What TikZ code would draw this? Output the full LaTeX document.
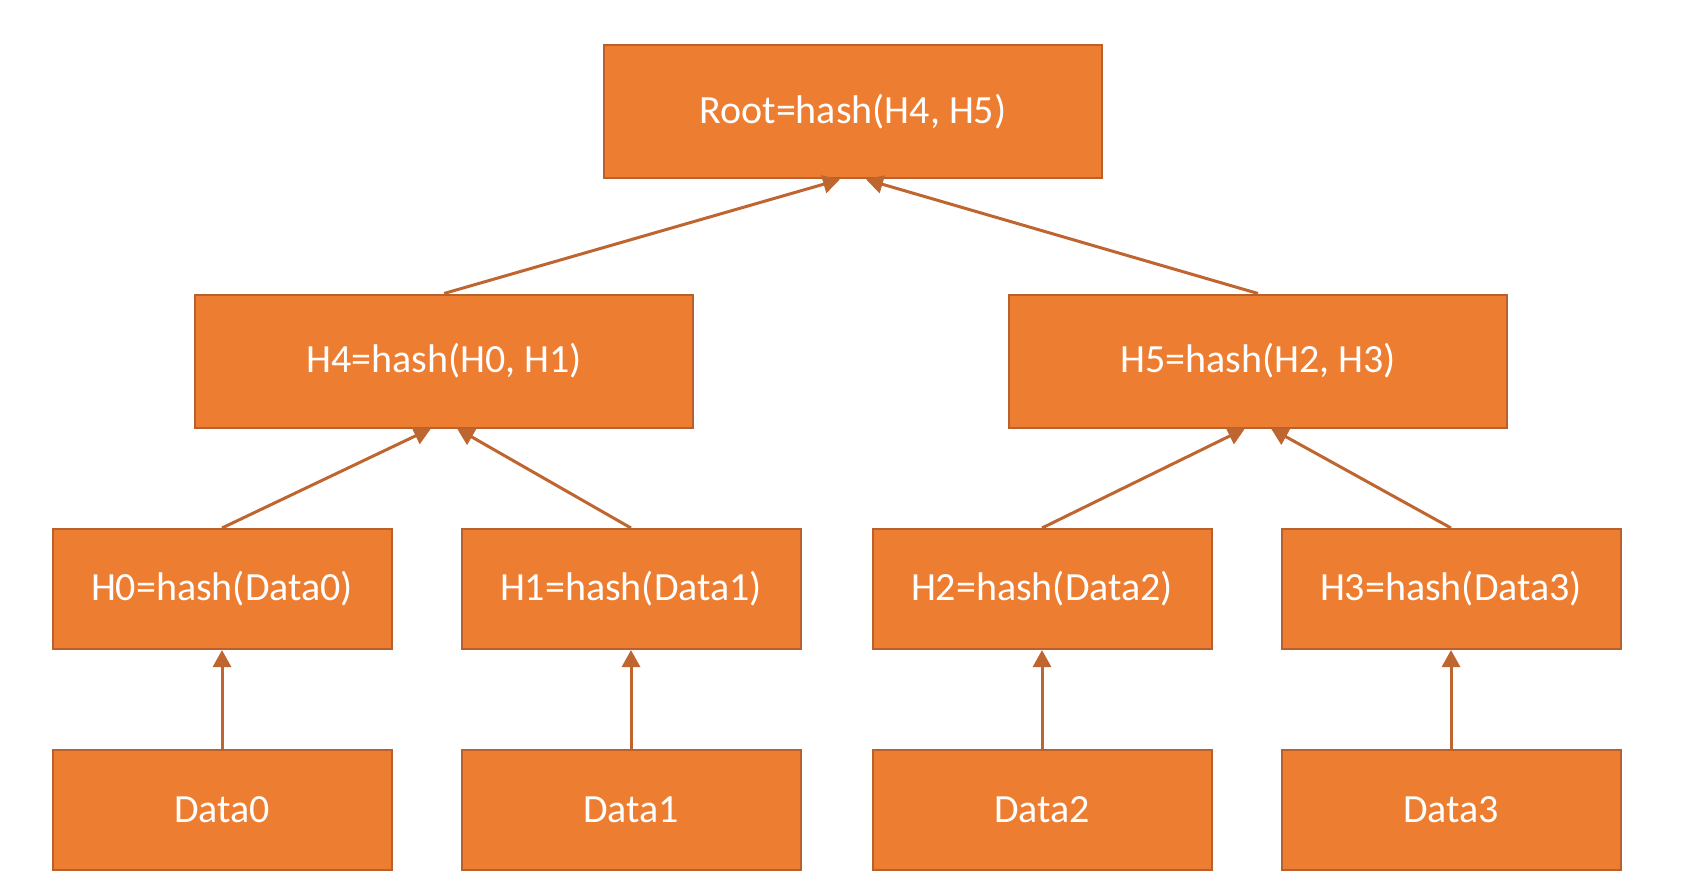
\documentclass[tikz,border=0pt]{standalone}
\usepackage{fontspec}
\setmainfont{Carlito}
\usetikzlibrary{arrows.meta}
\definecolor{naranja}{HTML}{ED7D31}
\definecolor{naranjaosc}{HTML}{B8612C}
\definecolor{cafe}{HTML}{BF6530}
\begin{document}
\begin{tikzpicture}[x=1pt,y=-1pt,
	caja/.style={draw=naranjaosc,line width=2pt,fill=naranja,text=white,inner sep=0pt,
		font=\fontsize{40}{48}\selectfont,minimum width=498pt,minimum height=133pt},
	hoja/.style={caja,minimum width=339pt,minimum height=120pt},
	flecha/.style={draw=cafe,line width=3pt,-{Triangle[length=17pt,width=18pt]}}]
			\useasboundingbox (0,0) rectangle (1698,888);

			% Raiz y nivel 1
			\node[caja] (raiz) at (853,112) {Root=hash(H4, H5)};
			\node[caja] (h4) at (444,361) {H4=hash(H0, H1)};
			\node[caja] (h5) at (1258,361) {H5=hash(H2, H3)};

			% Hashes de datos
			\node[hoja] (h0) at (222,589) {H0=hash(Data0)};
			\node[hoja] (h1) at (631,589) {H1=hash(Data1)};
			\node[hoja] (h2) at (1042,589) {H2=hash(Data2)};
			\node[hoja] (h3) at (1451,589) {H3=hash(Data3)};

			% Datos
			\node[hoja] (d0) at (222,810) {Data0};
			\node[hoja] (d1) at (631,810) {Data1};
			\node[hoja] (d2) at (1042,810) {Data2};
			\node[hoja] (d3) at (1451,810) {Data3};

			% Flechas
			\draw[flecha] (h4.north) -- ([xshift=-13pt]raiz.south);
			\draw[flecha] (h5.north) -- ([xshift=13pt]raiz.south);
			\draw[flecha] (h0.north) -- ([xshift=-13pt]h4.south);
			\draw[flecha] (h1.north) -- ([xshift=13pt]h4.south);
			\draw[flecha] (h2.north) -- ([xshift=-13pt]h5.south);
			\draw[flecha] (h3.north) -- ([xshift=13pt]h5.south);
			\draw[flecha] (d0) -- (h0);
			\draw[flecha] (d1) -- (h1);
			\draw[flecha] (d2) -- (h2);
			\draw[flecha] (d3) -- (h3);

		    \end{tikzpicture}
\end{document}
